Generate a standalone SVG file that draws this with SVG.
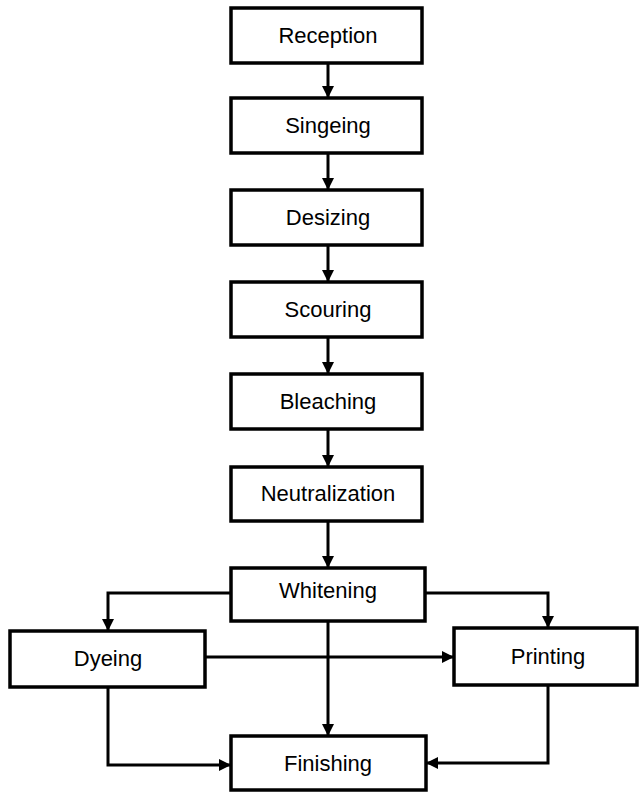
<svg xmlns="http://www.w3.org/2000/svg" width="639" height="794" viewBox="0 0 639 794">
<defs>
<marker id="ah" markerWidth="12" markerHeight="12" viewBox="0 0 12 12" refX="12" refY="6" orient="auto" markerUnits="userSpaceOnUse">
<path d="M0,0 L12,6 L0,12 Z" fill="#000"/>
</marker>
<style>
.box{fill:#fff;stroke:#000;stroke-width:3.5}
.lbl{font-family:"Liberation Sans",Arial,sans-serif;font-size:22px;fill:#000;text-anchor:middle}
.c{fill:none;stroke:#000;stroke-width:3;marker-end:url(#ah)}
</style>
</defs>
<rect width="639" height="794" fill="#fff"/>
<g id="connectors">
<path class="c" d="M328,63 V98"/>
<path class="c" d="M328,153 V190"/>
<path class="c" d="M328,245 V282"/>
<path class="c" d="M328,337 V374"/>
<path class="c" d="M328,429 V467"/>
<path class="c" d="M328,521 V568"/>
<path class="c" d="M231,593 H108 V631"/>
<path class="c" d="M425,593 H548 V628"/>
<path class="c" d="M205,657 H454"/>
<path class="c" d="M328,621 V736"/>
<path class="c" d="M108,687 V765 H231"/>
<path class="c" d="M548,685 V763 H426"/>
</g>
<g id="reception"><rect class="box" x="231" y="8" width="191" height="55"/><text class="lbl" x="328" y="43">Reception</text></g>
<g id="singeing"><rect class="box" x="231" y="98" width="191" height="55"/><text class="lbl" x="328" y="133">Singeing</text></g>
<g id="desizing"><rect class="box" x="231" y="190" width="191" height="55"/><text class="lbl" x="328" y="225">Desizing</text></g>
<g id="scouring"><rect class="box" x="231" y="282" width="191" height="55"/><text class="lbl" x="328" y="317">Scouring</text></g>
<g id="bleaching"><rect class="box" x="231" y="374" width="191" height="55"/><text class="lbl" x="328" y="409">Bleaching</text></g>
<g id="neutralization"><rect class="box" x="231" y="467" width="191" height="54"/><text class="lbl" x="328" y="501">Neutralization</text></g>
<g id="whitening"><rect class="box" x="231" y="568" width="194" height="53"/><text class="lbl" x="328" y="598">Whitening</text></g>
<g id="dyeing"><rect class="box" x="10" y="631" width="195" height="56"/><text class="lbl" x="108" y="666">Dyeing</text></g>
<g id="printing"><rect class="box" x="454" y="628" width="183" height="57"/><text class="lbl" x="548" y="664">Printing</text></g>
<g id="finishing"><rect class="box" x="231" y="736" width="195" height="54"/><text class="lbl" x="328" y="771">Finishing</text></g>
</svg>
